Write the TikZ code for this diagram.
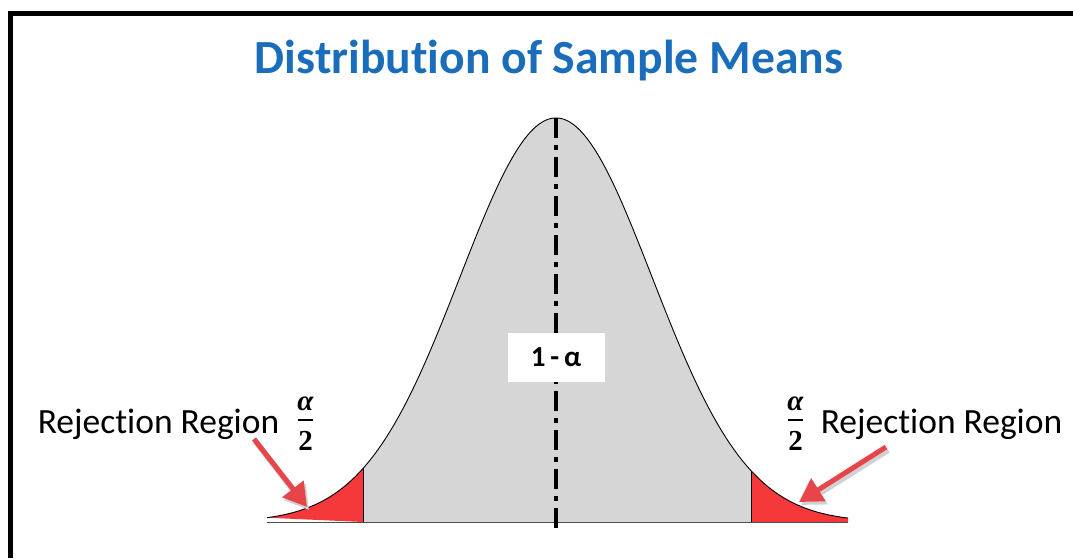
\documentclass[tikz,border=0pt]{standalone}
\usepackage{fontspec}
\setmainfont[Ligatures=NoCommon]{Carlito}
\newfontfamily\fracfont{Liberation Serif}
\usetikzlibrary{arrows.meta}
\definecolor{titleblue}{HTML}{1A6DBB}
\definecolor{curvegray}{HTML}{D6D6D6}
\definecolor{tailred}{HTML}{F5393B}
\definecolor{arrowred}{HTML}{E8454A}
\tikzset{
  declare function={g(\t)=522-404*exp(-((\t-556)/96)^2/2);},
  titletext/.style={font=\fontsize{47.6}{52}\selectfont\bfseries, text=titleblue, inner sep=0pt},
  regiontext/.style={font=\fontsize{35.5}{40}\selectfont, inner sep=0pt, anchor=base},
  fractext/.style={font=\fracfont\fontsize{29}{32}\selectfont\bfseries, inner sep=0pt, anchor=base},
  fracbar/.style={line width=2pt},
  pointer/.style={arrowred, line width=5pt, -{Triangle[length=23pt,width=26pt]}},
  pointershadow/.style={black!18, line width=6pt, -{Triangle[length=23pt,width=26pt]}},
  labelbox/.style={fill=white, minimum width=97pt, minimum height=49pt, inner sep=0pt, font=\fontsize{29}{32}\selectfont\bfseries},
}
\begin{document}
\begin{tikzpicture}[x=1pt,y=-1pt]
\useasboundingbox (0,0) rectangle (1073,558);
\fill[white] (0,0) rectangle (1073,558);
% frame
\draw[line width=5pt] (10,558) -- (10,13) -- (1073,13);
% curve body
\fill[curvegray] plot[domain=363:751,samples=150] (\x,{g(\x)}) -- (751,522) -- (363,522) -- cycle;
\fill[tailred] plot[domain=267:363,samples=60] (\x,{g(\x)}) -- (363,522) -- cycle;
\fill[tailred] plot[domain=751:848,samples=60] (\x,{g(\x)}) -- (848,522) -- (751,522) -- cycle;
\draw[line width=0.9pt] plot[domain=267:848,samples=300] (\x,{g(\x)});
\draw[line width=1pt, black!70] (267,522) -- (848,522);
\draw[line width=1pt] (363,{g(363)}) -- (363,522);
\draw[line width=1pt] (751,{g(751)}) -- (751,522);
% centre dash-dot
\draw[line width=4pt, dash pattern=on 20pt off 7pt on 5pt off 7pt] (556,118) -- (556,532);
\node[labelbox] (conf) at (556,357) {1\,-\,α};
% title
\node[titletext] (title) at (549,61) {Distribution of Sample Means};
% left label
\node[regiontext] (lefttxt) at (158.5,433) {Rejection Region};
\node[fractext] (lefta) at (305.5,410) {\itshape α};
\draw[fracbar] (298,420) -- (313,420);
\node[fractext] (left2) at (305.5,450) {2};
% right label
\node[regiontext] (righttxt) at (941.5,433) {Rejection Region};
\node[fractext] (righta) at (795.5,410) {\itshape α};
\draw[fracbar] (788,420) -- (803,420);
\node[fractext] (right2) at (795.5,450) {2};
% arrows
\coordinate (lstart) at (254,439);
\coordinate (lend) at (307,507);
\coordinate (rstart) at (886,447);
\coordinate (rend) at (799,502);
\draw[pointershadow] ([shift={(2,3)}]lstart) -- ([shift={(2,3)}]lend);
\draw[pointershadow] ([shift={(2,3)}]rstart) -- ([shift={(2,3)}]rend);
\draw[pointer] (lstart) -- (lend);
\draw[pointer] (rstart) -- (rend);
\end{tikzpicture}
\end{document}
